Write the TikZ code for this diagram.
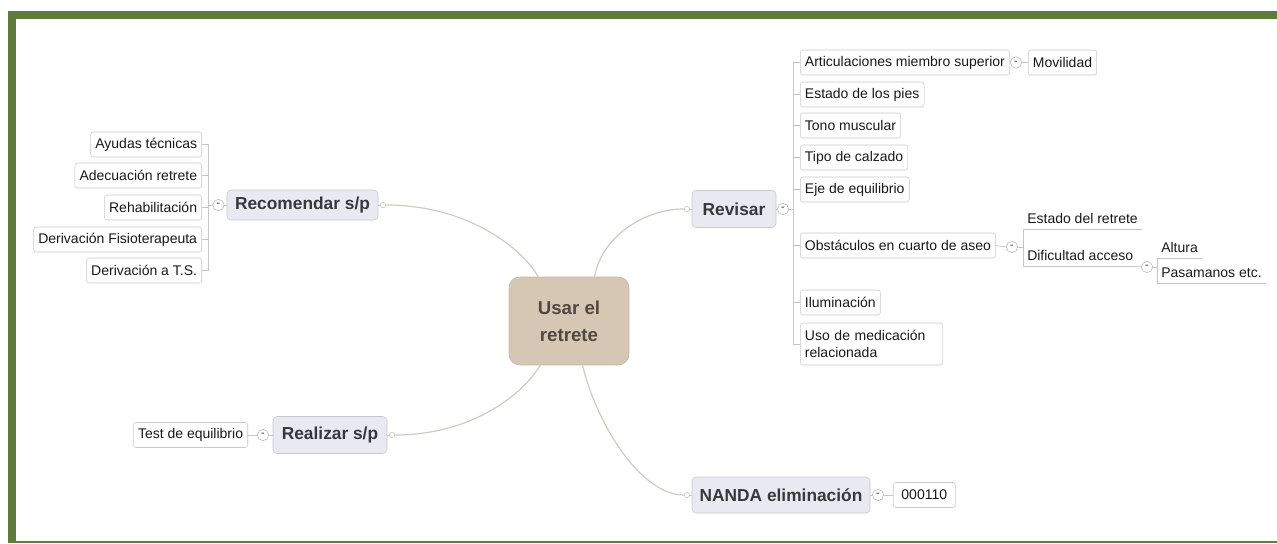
\documentclass[tikz,border=0pt]{standalone}
\usepackage{fontspec}
\setmainfont{Liberation Sans}
\definecolor{frame}{RGB}{95,124,60}
\definecolor{conn}{RGB}{208,202,194}
\definecolor{boxline}{RGB}{200,200,206}
\definecolor{branchfill}{RGB}{233,233,241}
\definecolor{centerfill}{RGB}{214,199,180}
\definecolor{centertext}{RGB}{82,72,64}
\definecolor{txt}{RGB}{25,25,25}
\definecolor{btxt}{RGB}{55,55,60}
\begin{document}
\begin{tikzpicture}[x=0.75pt,y=-0.75pt,
  leaf/.style={draw=boxline, fill=white, rounded corners=2pt, font=\fontsize{10.5}{12.5}\selectfont, text=txt, minimum height=18.75pt, inner xsep=3.5pt, inner ysep=0pt},
  plainleaf/.style={font=\fontsize{10.5}{12.5}\selectfont, text=txt, inner xsep=3pt, inner ysep=1.5pt, text height=0.75em, text depth=0.25em},
  branch/.style={draw=boxline, fill=branchfill, rounded corners=3pt, font=\fontsize{13}{15}\selectfont\bfseries, text=btxt, inner sep=0pt},
  centerbox/.style={draw=centerfill!92!black, fill=centerfill, rounded corners=8pt, align=center, font=\fontsize{14}{20}\selectfont\bfseries, text=centertext, inner sep=0pt},
  collapse/.style={circle, draw=gray!60, fill=white, minimum size=8.5pt, inner sep=0pt, font=\fontsize{8}{8}\selectfont\bfseries, text=gray!90!black},
  port/.style={circle, draw=gray!50, fill=white, minimum size=4pt, inner sep=0pt},
  link/.style={draw=conn, line width=0.9pt},
  tree/.style={draw=gray!45, line width=0.6pt}
]
\useasboundingbox (0,0) rectangle (1277,543);
% frame
\fill[frame] (8,11) rectangle (1277,19);
\fill[frame] (8,11) rectangle (16,543);
\fill[frame] (8,541) rectangle (1277,543);

% center
\node[centerbox, minimum width=90pt, minimum height=66pt] (c) at (569,321) {Usar el\\retrete};

% main branches
\node[branch, minimum width=113.25pt, minimum height=22.5pt] (rec) at (302.5,205) {Recomendar s/p};
\node[branch, minimum width=85.5pt, minimum height=27.75pt] (rea) at (330,435) {Realizar s/p};
\node[branch, minimum width=63pt, minimum height=27.75pt] (rev) at (734,209) {Revisar};
\node[branch, minimum width=133.5pt, minimum height=27pt] (nan) at (781,495) {NANDA eliminación};

% ports
\node[port] (prec) at (383,205) {};
\node[port] (prea) at (392,435) {};
\node[port] (prev) at (687,209) {};
\node[port] (pnan) at (687,495) {};
\draw[tree] (rec.east) -- (prec.west);
\draw[tree] (rea.east) -- (prea.west);
\draw[tree] (prev.east) -- (rev.west);
\draw[tree] (pnan.east) -- (nan.west);

% curves from center
\draw[link] (c.60) .. controls +(6,-37) and +(-43,0) .. (prev.west);
\draw[link] (c.125) .. controls +(-13,-25) and +(85,0) .. (prec.east);
\draw[link] (c.237) .. controls +(-18,30) and +(76,0) .. (prea.east);
\draw[link] (c.287) .. controls +(13,55) and +(-45,0) .. (pnan.west);

% Recomendar children
\node[collapse] (crec) at (218.5,205) {-};
\draw[tree] (crec.east) -- (rec.west);
\node[leaf, anchor=east] (l1) at (202,144.5) {Ayudas técnicas};
\node[leaf, anchor=east] (l2) at (202,175.5) {Adecuación retrete\ };
\node[leaf, anchor=east] (l3) at (202,207.5) {Rehabilitación};
\node[leaf, anchor=east] (l4) at (202,239.5) {Derivación Fisioterapeuta};
\node[leaf, anchor=east] (l5) at (202,270.5) {Derivación a T.S.};
\draw[tree] (l1.east) -- ++(6,0) coordinate (bl) -- (bl |- l5.east) -- (l5.east);
\draw[tree] (l2.east) -- (bl |- l2.east);
\draw[tree] (l3.east) -- (bl |- l3.east);
\draw[tree] (l4.east) -- (bl |- l4.east);
\draw[tree] (crec.west) -- (bl |- crec);

% Realizar children
\node[collapse] (crea) at (263,435) {-};
\node[leaf, anchor=east] (test) at (248,435) {Test de equilibrio};
\draw[tree] (rea.west) -- (crea.east);
\draw[tree] (crea.west) -- (test.east);

% NANDA children
\node[collapse] (cnan) at (878,495) {-};
\node[leaf, anchor=west, minimum width=46.5pt] (code) at (893,495) {000110};
\draw[tree] (nan.east) -- (cnan.west);
\draw[tree] (cnan.east) -- (code.west);

% Revisar children
\node[collapse] (crev) at (783,209) {-};
\draw[tree] (rev.east) -- (crev.west);
\node[leaf, anchor=west] (r1) at (800,62.5) {Articulaciones miembro superior};
\node[leaf, anchor=west] (r2) at (800,94.5) {Estado de los pies};
\node[leaf, anchor=west] (r3) at (800,125.5) {Tono muscular};
\node[leaf, anchor=west] (r4) at (800,157.5) {Tipo de calzado};
\node[leaf, anchor=west] (r5) at (800,189.5) {Eje de equilibrio};
\node[leaf, anchor=west] (r6) at (800,245.5) {Obstáculos en cuarto de aseo};
\node[leaf, anchor=west] (r7) at (800,302.5) {Iluminación};
\node[leaf, anchor=west, text width=100pt, align=left, minimum height=31.5pt] (r8) at (800,344) {Uso de medicación\\relacionada};
\draw[tree] (r1.west) -- ++(-7,0) coordinate (br) -- (br |- r8.west) -- (r8.west);
\draw[tree] (r2.west) -- (br |- r2.west);
\draw[tree] (r3.west) -- (br |- r3.west);
\draw[tree] (r4.west) -- (br |- r4.west);
\draw[tree] (r5.west) -- (br |- r5.west);
\draw[tree] (r6.west) -- (br |- r6.west);
\draw[tree] (r7.west) -- (br |- r7.west);
\draw[tree] (crev.east) -- (br |- crev);

% Articulaciones -> Movilidad
\node[collapse] (cart) at (1016,62.5) {-};
\node[leaf, anchor=west] (mov) at (1028,62.5) {Movilidad};
\draw[tree] (r1.east) -- (cart.west);
\draw[tree] (cart.east) -- (mov.west);

% Obstaculos children
\node[collapse] (cobs) at (1012,247) {-};
\draw[tree] (r6.east) -- (cobs.west);
\node[plainleaf, anchor=south west] (e1) at (1023,229) {Estado del retrete};
\node[plainleaf, anchor=south west] (e2) at (1023,266) {Dificultad acceso};
\draw[tree] (e1.south east) -- (e1.south west) -- (e2.south west) -- (e2.south east);
\draw[tree] (cobs.east) -- (cobs.east -| e1.south west);

% Dificultad children
\node[collapse] (cdif) at (1147,267) {-};
\draw[tree] (e2.south east) -- (cdif.west);
\node[plainleaf, anchor=south west] (a1) at (1157,258) {Altura};
\node[plainleaf, anchor=south west] (a2) at (1157,283) {Pasamanos etc.};
\draw[tree] (a1.south east) -- (a1.south west) -- (a2.south west) -- (a2.south east);
\draw[tree] (cdif.east) -- (cdif.east -| a1.south west);
\end{tikzpicture}
\end{document}
